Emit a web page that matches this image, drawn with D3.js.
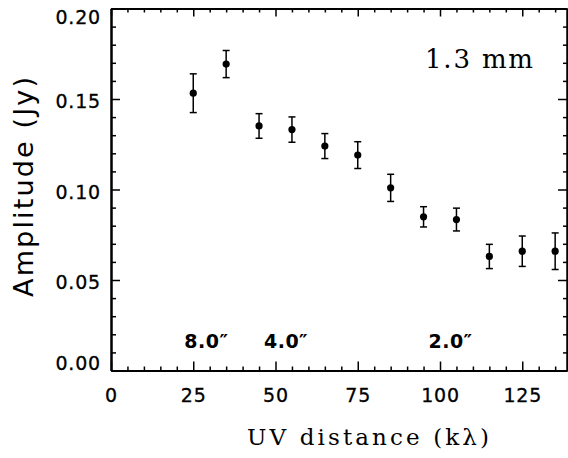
<!DOCTYPE html>
<html>
<head>
<meta charset="utf-8">
<script src="https://cdn.jsdelivr.net/npm/d3@7"></script>
<style>
body { margin: 0; background: #fff; }
svg { display: block; }
</style>
</head>
<body>
<svg id="chart" width="568" height="458"></svg>
<script>
// uv distance bins (klambda), amplitude (Jy), 1-sigma errors
var uvdist = [25, 35, 45, 55, 65, 75, 85, 95, 105, 115, 125, 135];
var amp    = [0.1532, 0.1693, 0.1351, 0.1331, 0.1240, 0.1190, 0.1009, 0.0849, 0.0834, 0.0630, 0.0659, 0.0659];
var err    = [0.0107, 0.0075, 0.0068, 0.0070, 0.0069, 0.0074, 0.0075, 0.0056, 0.0063, 0.0067, 0.0084, 0.0101];

var xMajor = [0, 25, 50, 75, 100, 125];
var yMajor = [0, 0.05, 0.10, 0.15, 0.20];

// angular scale labels, placed at their uv distance
var scaleLabels = ["8.0\u2033", "4.0\u2033", "2.0\u2033"];
var scalePos    = [29, 53.2, 103.2];

var svg = d3.select('#chart');
var mLeft = 111, mRight = 567, mTop = 8.5, mBottom = 370.5;

var x = d3.scaleLinear().domain([0, 138.6]).range([mLeft, mRight]);
var y = d3.scaleLinear().domain([0, 0.20]).range([mBottom, mTop]);

var xMinor = d3.range(0, 139, 5).filter(function(v) { return v % 25 != 0; });
var yMinor = d3.range(0, 0.2001, 0.01).filter(function(v) { return Math.round(v * 100) % 5 != 0; });

function styleAxis(g) {
	g.attr('font-family', 'DejaVu Sans, sans-serif').attr('font-size', 19);
	g.select('.domain').attr('stroke', '#000').attr('stroke-width', 2);
	g.selectAll('.tick line').attr('stroke', '#000').attr('stroke-width', 1.5);
	g.selectAll('.tick text').attr('fill', '#000').attr('letter-spacing', 0.8)
		.attr('stroke', '#000').attr('stroke-width', 0.3);
}

// bottom
svg.append('g').attr('transform', 'translate(0,' + mBottom + ')')
	.call(d3.axisBottom(x).tickValues(xMajor).tickSizeInner(-9).tickSizeOuter(0).tickPadding(18.5).tickFormat(d3.format('d')))
	.call(styleAxis);
svg.append('g').attr('transform', 'translate(0,' + mBottom + ')')
	.call(d3.axisBottom(x).tickValues(xMinor).tickSizeInner(-4).tickSizeOuter(0).tickFormat(''))
	.call(styleAxis);
// top
svg.append('g').attr('transform', 'translate(0,' + mTop + ')')
	.call(d3.axisTop(x).tickValues(xMajor).tickSizeInner(-8).tickSizeOuter(0).tickFormat(''))
	.call(styleAxis);
svg.append('g').attr('transform', 'translate(0,' + mTop + ')')
	.call(d3.axisTop(x).tickValues(xMinor).tickSizeInner(-4).tickSizeOuter(0).tickFormat(''))
	.call(styleAxis);
// left
var yAx = svg.append('g').attr('transform', 'translate(' + mLeft + ',0)')
	.call(d3.axisLeft(y).tickValues(yMajor).tickSizeInner(-9).tickSizeOuter(0).tickPadding(10).tickFormat(d3.format('.2f')))
	.call(styleAxis);
yAx.selectAll('.tick text').attr('dy', function(d) {
	if (d == 0) return '-0.05em';
	if (d == 0.2) return '0.78em';
	return '0.45em';
});
svg.append('g').attr('transform', 'translate(' + mLeft + ',0)')
	.call(d3.axisLeft(y).tickValues(yMinor).tickSizeInner(-5).tickSizeOuter(0).tickFormat(''))
	.call(styleAxis);
// right
svg.append('g').attr('transform', 'translate(' + mRight + ',0)')
	.call(d3.axisRight(y).tickValues(yMajor).tickSizeInner(-9).tickSizeOuter(0).tickFormat(''))
	.call(styleAxis);
svg.append('g').attr('transform', 'translate(' + mRight + ',0)')
	.call(d3.axisRight(y).tickValues(yMinor).tickSizeInner(-4).tickSizeOuter(0).tickFormat(''))
	.call(styleAxis);

// error bars
var pts = uvdist.map(function(d, i) { return { u: d, a: amp[i], e: err[i] }; });
var eb = svg.append('g').attr('stroke', '#000').attr('stroke-width', 1.5);
eb.selectAll('line.bar').data(pts).enter().append('line')
	.attr('x1', function(d) { return x(d.u); }).attr('x2', function(d) { return x(d.u); })
	.attr('y1', function(d) { return y(d.a - d.e); }).attr('y2', function(d) { return y(d.a + d.e); });
eb.selectAll('line.hi').data(pts).enter().append('line')
	.attr('x1', function(d) { return x(d.u) - 3.5; }).attr('x2', function(d) { return x(d.u) + 3.5; })
	.attr('y1', function(d) { return y(d.a + d.e); }).attr('y2', function(d) { return y(d.a + d.e); });
eb.selectAll('line.lo').data(pts).enter().append('line')
	.attr('x1', function(d) { return x(d.u) - 3.5; }).attr('x2', function(d) { return x(d.u) + 3.5; })
	.attr('y1', function(d) { return y(d.a - d.e); }).attr('y2', function(d) { return y(d.a - d.e); });

svg.append('g').selectAll('circle').data(pts).enter().append('circle')
	.attr('cx', function(d) { return x(d.u); })
	.attr('cy', function(d) { return y(d.a); })
	.attr('r', 3.6)
	.attr('fill', '#000');

// scale labels
svg.append('g').selectAll('text').data(scaleLabels).enter().append('text')
	.attr('x', function(d, i) { return x(scalePos[i]); })
	.attr('y', 348)
	.attr('text-anchor', 'middle')
	.attr('font-family', 'DejaVu Sans, sans-serif')
	.attr('font-weight', 'bold')
	.attr('font-size', 19)
	.attr('letter-spacing', 0.5)
	.text(function(d) { return d; });

// band label
svg.append('text')
	.attr('x', 425).attr('y', 68)
	.attr('font-family', 'DejaVu Serif, serif')
	.attr('font-size', 26)
	.attr('textLength', 108).attr('lengthAdjust', 'spacing')
	.text('1.3 mm');

// axis titles
svg.append('text')
	.attr('x', 247).attr('y', 445)
	.attr('font-family', 'DejaVu Serif, serif')
	.attr('font-size', 23)
	.attr('textLength', 242).attr('lengthAdjust', 'spacing')
	.text('UV distance (k\u03bb)');

svg.append('text')
	.attr('transform', 'translate(33,187) rotate(-90)')
	.attr('text-anchor', 'middle')
	.attr('font-family', 'DejaVu Sans, sans-serif')
	.attr('font-size', 27)
	.attr('textLength', 220).attr('lengthAdjust', 'spacing')
	.text('Amplitude (Jy)');
</script>
</body>
</html>
